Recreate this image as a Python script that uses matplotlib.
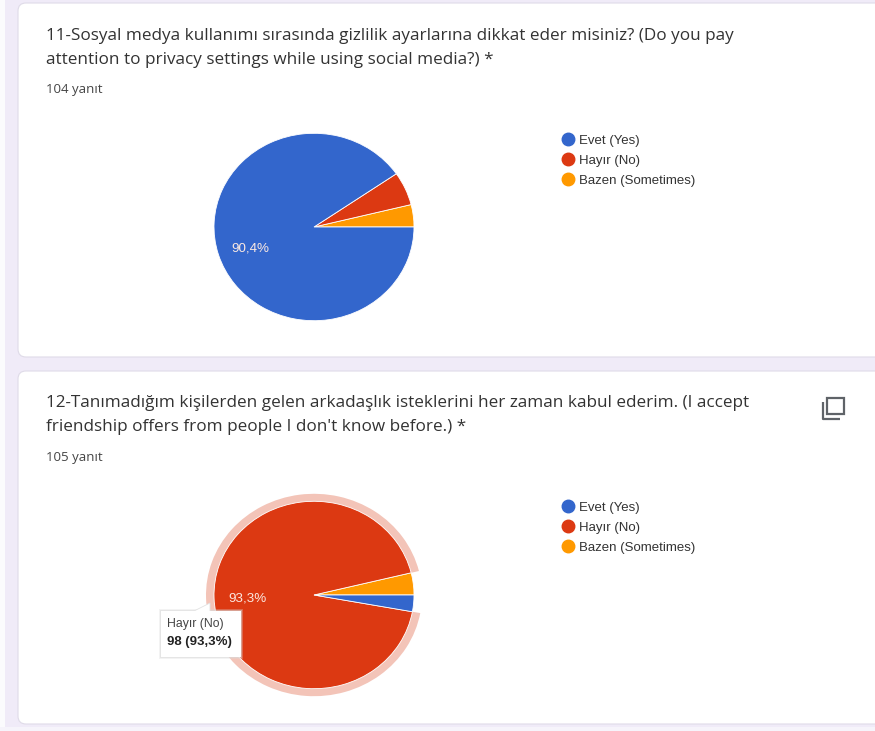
import matplotlib
matplotlib.use("Agg")
import matplotlib.pyplot as plt
from matplotlib.patches import FancyBboxPatch, Polygon, Rectangle
from matplotlib.lines import Line2D

plt.rcParams['font.family'] = ['Open Sans', 'DejaVu Sans']
CHART_FONT = ['Liberation Sans', 'DejaVu Sans']

W, H = 875, 731
labels = ['Evet (Yes)', 'Hayır (No)', 'Bazen (Sometimes)']
colors = {'Evet (Yes)': '#3366cc', 'Hayır (No)': '#dc3912', 'Bazen (Sometimes)': '#ff9900'}
halo_color = '#f3c4b8'

q1_title = ['11-Sosyal medya kullanımı sırasında gizlilik ayarlarına dikkat eder misiniz? (Do you pay',
            'attention to privacy settings while using social media?) *']
q1_count = '104 yanıt'
q1_order = ['Bazen (Sometimes)', 'Hayır (No)', 'Evet (Yes)']
q1_values = [4, 6, 94]

q2_title = ['12-Tanımadığım kişilerden gelen arkadaşlık isteklerini her zaman kabul ederim. (I accept',
            "friendship offers from people I don't know before.) *"]
q2_count = '105 yanıt'
q2_order = ['Bazen (Sometimes)', 'Hayır (No)', 'Evet (Yes)']
q2_values = [4, 98, 3]

tooltip_name = 'Hayır (No)'
tooltip_value = '98 (93,3%)'

fig = plt.figure(figsize=(W / 100, H / 100), dpi=100, facecolor='#f0ebf8')
bg = fig.add_axes([0, 0, 1, 1])
bg.set_xlim(0, W)
bg.set_ylim(H, 0)
bg.axis('off')

bg.add_patch(Rectangle((0, 0), 5, H, fc='#fbfbfd', ec='none'))
bg.add_patch(Rectangle((0, 727), W, 4, fc='#f6f4fb', ec='none'))
for top, bottom in [(3, 357), (371, 724)]:
    bg.add_patch(FancyBboxPatch((26, top + 8), W + 20, bottom - top - 16,
                                boxstyle='round,pad=8,rounding_size=8',
                                fc='white', ec='#dfdbe8', lw=0.8))


def fmt_pct(p):
    return f'{p:.1f}%'.replace('.', ',') if p > 50 else ''


def pie_axes(cx, cy, rx, ry):
    ax = fig.add_axes([(cx - rx) / W, 1 - (cy + ry) / H, 2 * rx / W, 2 * ry / H])
    ax.set_xlim(-1, 1)
    ax.set_ylim(-1, 1)
    ax.set_aspect('auto')
    ax.axis('off')
    ax.patch.set_alpha(0)
    return ax


def draw_pie(order, values, cx, cy, label_shift):
    ax = pie_axes(cx, cy, 100, 93.7)
    _, _, autotexts = ax.pie(values, colors=[colors[k] for k in order], startangle=0, counterclock=True,
                             autopct=fmt_pct, pctdistance=0.67, frame=False, radius=1,
                             wedgeprops=dict(ec='white', lw=0.6),
                             textprops=dict(color='#fbe9e2', fontsize=9.6, family=CHART_FONT))
    for t in autotexts:
        x, y = t.get_position()
        t.set_position((x, y - label_shift))
    ax.set_xlim(-1, 1)
    ax.set_ylim(-1, 1)
    ax.set_aspect('auto')
    return ax


def draw_legend(y0):
    handles = [Line2D([], [], marker='o', ls='', ms=9, mfc=colors[k], mec=colors[k]) for k in labels]
    leg = bg.legend(handles, labels, loc='upper left', bbox_to_anchor=(557 / W, 1 - y0 / H),
                    bbox_transform=fig.transFigure, frameon=False,
                    prop=dict(family=CHART_FONT, size=9.5),
                    labelcolor='#333333', handletextpad=0.05, labelspacing=0.58,
                    borderpad=0, borderaxespad=0, handlelength=1.6)
    bg.add_artist(leg)
    bg.legend_ = None


def draw_heading(lines, count, y1, y2, y3):
    bg.text(46, y1, lines[0], fontsize=12.3, color='#333333', va='center', ha='left')
    bg.text(46, y2, lines[1], fontsize=12.3, color='#333333', va='center', ha='left')
    bg.text(46, y3, count, fontsize=9.5, color='#444444', va='center', ha='left')


draw_heading(q1_title, q1_count, 36, 60, 90)
draw_heading(q2_title, q2_count, 403, 427, 458)

draw_pie(q1_order, q1_values, 314, 227, 0.03)

# highlighted ring behind the hovered slice of the second pie
halo = pie_axes(314, 595, 108, 101.2)
halo.pie(q2_values, colors=['none', halo_color, 'none'], startangle=0, counterclock=True,
         radius=1, frame=False)
halo.set_xlim(-1, 1)
halo.set_ylim(-1, 1)
halo.set_aspect('auto')
draw_pie(q2_order, q2_values, 314, 595, 0.02)

draw_legend(134.5)
draw_legend(501.5)

# tooltip on top of the pie
top = fig.add_axes([0, 0, 1, 1])
top.set_xlim(0, W)
top.set_ylim(H, 0)
top.axis('off')
top.patch.set_alpha(0)
top.add_patch(Rectangle((159, 609), 84, 50, fc='#d9d9d9', ec='none', alpha=0.3))
top.add_patch(Rectangle((160, 610), 82, 48, fc='#d9d9d9', ec='none', alpha=0.5))
top.add_patch(Polygon([[192, 612], [210, 603], [210, 612]], fc='white', ec='#e2e2e2', lw=0.6))
top.add_patch(Rectangle((161, 611), 80, 46, fc='white', ec='none'))
top.text(167, 624, tooltip_name, fontsize=8.8, color='#444444', va='center', ha='left', family=CHART_FONT)
top.text(167, 642, tooltip_value, fontsize=9.5, color='#222222', va='center', ha='left',
         fontweight='bold', family=CHART_FONT)

# copy icon
top.add_patch(Rectangle((827, 398), 17, 16, fc='white', ec='#5f6368', lw=1.6))
top.plot([823, 823, 840], [402, 419, 419], color='#5f6368', lw=1.6, solid_capstyle='butt')

fig.savefig('out.png', dpi=100, facecolor=fig.get_facecolor())
